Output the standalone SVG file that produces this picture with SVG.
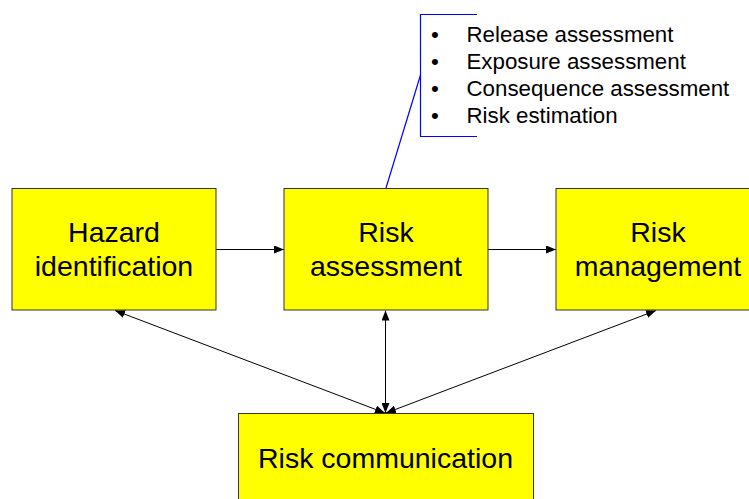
<svg xmlns="http://www.w3.org/2000/svg" width="749" height="499" viewBox="0 0 749 499">
<style>
.box{fill:#ffff00;stroke:#333;stroke-width:1}
.lbl{font-family:"Liberation Sans",Arial,sans-serif;font-size:28.5px;fill:#000;text-anchor:middle}
.bl{font-family:"Liberation Sans",Arial,sans-serif;font-size:22.3px;fill:#000}
.con{stroke:#000;stroke-width:1;fill:none}
.call{stroke:#0000ff;stroke-width:1.2;fill:none}
</style>
<defs>
<marker id="ah" viewBox="0 0 10 8" refX="10" refY="4" markerWidth="10" markerHeight="8" markerUnits="userSpaceOnUse" orient="auto-start-reverse">
<path d="M0,0 L10,4 L0,8 z" fill="#000"/>
</marker>
</defs>
<rect width="749" height="499" fill="#fff"/>
<g id="connectors">
<line class="con" x1="216" y1="249.5" x2="284" y2="249.5" marker-end="url(#ah)"/>
<line class="con" x1="488" y1="249.5" x2="556" y2="249.5" marker-end="url(#ah)"/>
<line class="con" x1="115" y1="310.5" x2="385" y2="413" marker-start="url(#ah)" marker-end="url(#ah)"/>
<line class="con" x1="385.5" y1="310.5" x2="385.5" y2="413" marker-start="url(#ah)" marker-end="url(#ah)"/>
<line class="con" x1="656" y1="310.5" x2="386" y2="413" marker-start="url(#ah)" marker-end="url(#ah)"/>
</g>
<g id="callout">
<path class="call" d="M477,14.5 H420.5 V136.5 H477"/>
<line class="call" x1="420.5" y1="75" x2="386" y2="188"/>
<g class="bl">
<text x="431" y="41.5">•</text>
<text x="431" y="68.5">•</text>
<text x="431" y="95.5">•</text>
<text x="431" y="122.5">•</text>
<text x="466.5" y="41.5">Release assessment</text>
<text x="466.5" y="68.5">Exposure assessment</text>
<text x="466.5" y="95.5">Consequence assessment</text>
<text x="466.5" y="122.5">Risk estimation</text>
</g>
</g>
<g id="hazard">
<rect class="box" x="12" y="188.5" width="204" height="121.5"/>
<text class="lbl" x="114" y="241.5">Hazard</text>
<text class="lbl" x="114" y="275.5">identification</text>
</g>
<g id="assessment">
<rect class="box" x="284" y="188.5" width="204" height="121.5"/>
<text class="lbl" x="386" y="241.5">Risk</text>
<text class="lbl" x="386" y="275.5">assessment</text>
</g>
<g id="management">
<rect class="box" x="556" y="188.5" width="204" height="121.5"/>
<text class="lbl" x="658" y="241.5">Risk</text>
<text class="lbl" x="658" y="275.5">management</text>
</g>
<g id="communication">
<rect class="box" x="238.5" y="413.5" width="295" height="100"/>
<text class="lbl" x="385.5" y="468">Risk communication</text>
</g>
</svg>
